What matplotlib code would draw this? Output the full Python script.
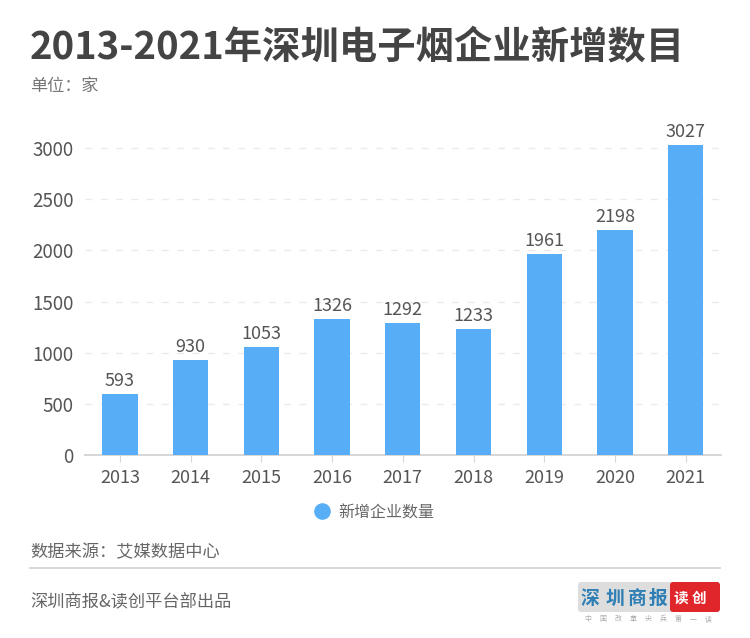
import matplotlib
matplotlib.use("Agg")
import matplotlib.pyplot as plt
from matplotlib.patches import FancyBboxPatch

plt.rcParams['font.family'] = ['Noto Sans CJK SC', 'DejaVu Sans']

years = ['2013','2014','2015','2016','2017','2018','2019','2020','2021']
counts = [593, 930, 1053, 1326, 1292, 1233, 1961, 2198, 3027]
yticks = [0, 500, 1000, 1500, 2000, 2500, 3000]
title = '2013-2021年深圳电子烟企业新增数目'
unit = '单位：家'
legend_label = '新增企业数量'
source = '数据来源：艾媒数据中心'
credit = '深圳商报&读创平台部出品'

W, H = 750, 638
fig = plt.figure(figsize=(W/100, H/100), dpi=100, facecolor='white')
L, R, T, B = 84.6, 721, 120, 455
ax = fig.add_axes([L/W, 1-B/H, (R-L)/W, (B-T)/H])
x = list(range(len(years)))
bars = ax.bar(x, counts, width=0.5, color='#58AEF6', zorder=3)
ax.set_xlim(-0.5, 8.5)
ax.set_ylim(0, 3000*(B-T)/(455-148))
ax.set_xticks(x, years)
ax.set_yticks(yticks)
ax.grid(axis='y', color='#EBEBEB', linestyle=(0, (5, 6)), linewidth=1, zorder=0)
ax.set_axisbelow(True)
for s in ['top', 'right', 'left']:
    ax.spines[s].set_visible(False)
ax.spines['bottom'].set_color('#D6D6D6')
ax.spines['bottom'].set_linewidth(1.4)
ax.tick_params(axis='x', length=5, color='#D6D6D6', labelsize=13, labelcolor='#555555', pad=5)
ax.tick_params(axis='y', length=0, labelsize=13.5, labelcolor='#555555', pad=8)
ax.bar_label(bars, labels=[str(c) for c in counts], fontsize=13, color='#555555', padding=3)

def t(px, py, s, **k):
    return fig.text(px/W, 1-py/H, s, **k)

t(30, 48, title, fontsize=27.6, fontweight='bold', color='#444444', va='center', ha='left')
t(30, 86, unit, fontsize=12.3, color='#777777', va='center')
ax_leg = fig.add_axes([0, 0, 1, 1], facecolor='none')
ax_leg.set_xlim(0, W); ax_leg.set_ylim(H, 0); ax_leg.axis('off')
ax_leg.scatter([322], [511], s=120, color='#58AEF6')
t(338, 513, legend_label, fontsize=11.5, color='#666666', va='center')
t(30, 552, source, fontsize=12.4, color='#666666', va='center')
ax_leg.plot([30, 720], [567.5, 567.5], color='#D0D0D0', lw=1.2)
t(30, 602, credit, fontsize=12.4, color='#666666', va='center')

# newspaper logo
ax_leg.add_patch(FancyBboxPatch((578, 582), 96, 30, boxstyle='round,pad=0,rounding_size=3',
                                fc='#DDDDDD', ec='none'))
ax_leg.add_patch(FancyBboxPatch((670, 582), 50, 30, boxstyle='round,pad=0,rounding_size=3',
                                fc='#E0252B', ec='none'))
for cx, ch in zip([590, 615, 637, 658], '深圳商报'):
    ax_leg.text(cx, 598, ch, fontsize=13.5, fontweight='bold', color='#2F7FB5', ha='center', va='center')
for cx, ch in zip([681, 699], '读创'):
    ax_leg.text(cx, 598, ch, fontsize=10.5, fontweight='bold', color='white', ha='center', va='center')
for cx, ch in zip([588, 603, 618, 633, 648, 663, 678, 693, 708], '中国改革尖兵第一读'):
    ax_leg.text(cx, 619, ch, fontsize=5, color='#AAAAAA', ha='center', va='center')

fig.savefig('out.png', dpi=100, facecolor='white')
